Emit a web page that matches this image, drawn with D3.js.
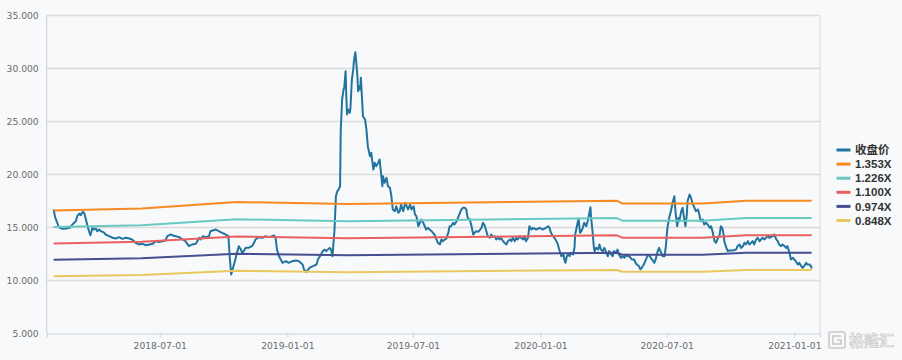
<!DOCTYPE html>
<html><head><meta charset="utf-8">
<script src="https://cdn.jsdelivr.net/npm/d3@7"></script>
<style>
html,body{margin:0;padding:0;background:#f8f9fb;}
svg{display:block;}
</style></head>
<body>
<svg id="chart" width="902" height="360"></svg>
<script>
// ---------- DATA ----------
const yTicks = [5, 10, 15, 20, 25, 30, 35];
const xTickLabels = ["2018-07-01", "2019-01-01", "2019-07-01", "2020-01-01", "2020-07-01", "2021-01-01"];
const seriesNames = ["收盘价", "1.353X", "1.226X", "1.100X", "0.974X", "0.848X"];

const closePrice = [
["2018-01-29",16.7],["2018-01-31",16.0],["2018-02-05",15.12],["2018-02-07",14.97],["2018-02-11",14.88],["2018-02-16",14.9],["2018-02-21",14.97],["2018-02-23",15.12],["2018-02-25",15.28],["2018-03-02",15.59],["2018-03-04",16.07],["2018-03-07",16.32],["2018-03-09",16.16],["2018-03-12",16.48],["2018-03-14",16.39],["2018-03-16",15.9],["2018-03-19",15.12],["2018-03-21",14.65],["2018-03-23",14.27],["2018-03-26",14.97],["2018-03-28",14.81],["2018-03-31",14.9],["2018-04-02",14.65],["2018-04-05",14.81],["2018-04-07",14.65],["2018-04-10",14.59],["2018-04-12",14.5],["2018-04-14",14.34],["2018-04-19",14.18],["2018-04-24",14.03],["2018-04-29",13.96],["2018-05-03",14.09],["2018-05-08",13.93],["2018-05-13",14.03],["2018-05-18",13.96],["2018-05-22",13.87],["2018-05-25",13.71],["2018-05-27",13.56],["2018-06-01",13.4],["2018-06-06",13.46],["2018-06-11",13.33],["2018-06-16",13.4],["2018-06-21",13.46],["2018-06-25",13.71],["2018-06-30",13.62],["2018-07-05",13.71],["2018-07-09",13.77],["2018-07-12",14.18],["2018-07-14",14.25],["2018-07-17",14.34],["2018-07-19",14.27],["2018-07-24",14.18],["2018-07-29",14.09],["2018-08-03",13.87],["2018-08-07",13.71],["2018-08-12",13.24],["2018-08-17",13.4],["2018-08-22",13.46],["2018-08-27",14.03],["2018-08-29",13.87],["2018-09-01",14.18],["2018-09-05",14.09],["2018-09-10",14.18],["2018-09-12",14.65],["2018-09-15",14.72],["2018-09-20",14.81],["2018-09-24",14.65],["2018-09-29",14.5],["2018-10-04",14.34],["2018-10-08",14.18],["2018-10-10",12.14],["2018-10-12",10.57],["2018-10-14",11.04],["2018-10-16",11.51],["2018-10-18",11.98],["2018-10-21",12.77],["2018-10-23",13.24],["2018-10-26",12.92],["2018-10-28",12.61],["2018-10-30",12.77],["2018-11-02",13.08],["2018-11-06",13.08],["2018-11-11",13.24],["2018-11-14",13.56],["2018-11-16",13.87],["2018-11-21",14.09],["2018-11-26",14.03],["2018-12-01",14.18],["2018-12-05",14.09],["2018-12-10",14.18],["2018-12-13",14.25],["2018-12-15",14.03],["2018-12-17",12.92],["2018-12-20",12.29],["2018-12-25",11.67],["2018-12-30",11.82],
["2019-01-03",11.67],["2019-01-08",11.82],["2019-01-13",11.89],["2019-01-18",11.82],["2019-01-20",11.67],["2019-01-23",11.51],["2019-01-25",11.04],["2019-01-28",10.8],["2019-02-02",11.2],["2019-02-07",11.35],["2019-02-12",11.51],["2019-02-14",11.98],["2019-02-17",12.29],["2019-02-21",12.77],["2019-02-24",12.92],["2019-02-26",12.77],["2019-03-03",13.08],["2019-03-05",12.92],["2019-03-07",12.29],["2019-03-10",14.81],["2019-03-12",17.95],["2019-03-14",18.42],["2019-03-16",18.58],["2019-03-18",18.9],["2019-03-19",24.25],["2019-03-21",27.08],["2019-03-23",28.02],["2019-03-24",28.18],["2019-03-26",29.75],["2019-03-27",27.39],["2019-03-28",25.66],["2019-03-30",26.13],["2019-04-01",25.82],["2019-04-02",26.29],["2019-04-04",28.96],["2019-04-06",29.91],["2019-04-07",30.69],["2019-04-09",31.54],["2019-04-10",30.85],["2019-04-12",29.27],["2019-04-13",27.86],["2019-04-14",28.33],["2019-04-16",28.02],["2019-04-17",29.12],["2019-04-19",26.76],["2019-04-20",25.5],["2019-04-23",25.19],["2019-04-25",24.25],["2019-04-27",22.67],["2019-04-30",21.73],["2019-05-02",22.04],["2019-05-05",20.47],["2019-05-07",21.1],["2019-05-09",20.78],["2019-05-12",21.1],["2019-05-14",21.42],["2019-05-16",20.16],["2019-05-18",18.9],["2019-05-19",19.84],["2019-05-21",19.21],["2019-05-24",19.69],["2019-05-26",18.9],["2019-05-29",18.74],["2019-05-31",17.95],["2019-06-02",16.7],["2019-06-05",16.54],["2019-06-07",17.01],["2019-06-10",16.39],["2019-06-12",16.54],["2019-06-14",17.17],["2019-06-17",16.54],["2019-06-20",17.33],["2019-06-22",17.01],["2019-06-24",16.7],["2019-06-27",17.17],["2019-06-29",16.7],["2019-07-02",17.01],["2019-07-04",16.23],["2019-07-06",16.07],["2019-07-09",15.12],["2019-07-11",15.44],["2019-07-13",15.75],["2019-07-16",15.44],["2019-07-18",15.12],["2019-07-20",14.81],["2019-07-23",14.97],["2019-07-25",14.81],["2019-07-28",14.65],["2019-07-30",14.5],["2019-08-01",14.34],["2019-08-04",13.87],["2019-08-06",13.56],["2019-08-09",13.4],["2019-08-11",13.87],["2019-08-13",13.71],["2019-08-16",13.87],["2019-08-18",13.93],["2019-08-21",14.5],["2019-08-23",15.12],["2019-08-25",15.12],["2019-08-28",15.44],["2019-08-30",15.28],["2019-09-02",15.59],["2019-09-04",15.9],["2019-09-06",16.23],["2019-09-09",16.7],["2019-09-11",16.86],["2019-09-14",16.86],["2019-09-16",16.7],["2019-09-18",15.9],["2019-09-21",15.75],["2019-09-23",15.28],["2019-09-26",14.34],["2019-09-28",14.5],["2019-09-30",14.65],["2019-10-03",14.59],["2019-10-05",14.72],["2019-10-08",14.97],["2019-10-10",15.44],["2019-10-12",15.28],["2019-10-15",14.65],["2019-10-17",14.18],["2019-10-20",14.03],["2019-10-22",14.34],["2019-10-24",14.09],["2019-10-27",14.18],["2019-10-29",13.87],["2019-11-01",14.03],["2019-11-03",13.87],["2019-11-05",14.03],["2019-11-08",13.71],["2019-11-10",13.56],["2019-11-13",13.4],["2019-11-15",13.71],["2019-11-18",13.87],["2019-11-20",13.71],["2019-11-22",14.03],["2019-11-25",13.71],["2019-11-27",14.03],["2019-11-29",13.87],["2019-12-02",14.18],["2019-12-04",14.03],["2019-12-07",13.87],["2019-12-09",14.18],["2019-12-11",13.71],["2019-12-14",14.03],["2019-12-16",15.12],["2019-12-19",14.81],["2019-12-21",14.97],["2019-12-26",14.81],["2019-12-31",14.97],
["2020-01-04",14.81],["2020-01-09",14.97],["2020-01-12",15.12],["2020-01-14",14.97],["2020-01-16",14.5],["2020-01-19",14.18],["2020-01-21",14.03],["2020-01-24",13.71],["2020-01-26",13.4],["2020-01-28",12.92],["2020-01-31",12.29],["2020-02-03",12.45],["2020-02-05",11.82],["2020-02-06",11.67],["2020-02-08",12.29],["2020-02-10",12.45],["2020-02-12",12.29],["2020-02-14",12.61],["2020-02-17",12.45],["2020-02-19",13.08],["2020-02-20",14.34],["2020-02-22",14.97],["2020-02-24",15.59],["2020-02-25",15.75],["2020-02-27",14.5],["2020-02-29",14.65],["2020-03-02",14.97],["2020-03-04",15.44],["2020-03-07",15.12],["2020-03-09",15.59],["2020-03-11",16.23],["2020-03-13",16.92],["2020-03-14",15.9],["2020-03-16",14.65],["2020-03-18",13.08],["2020-03-19",12.77],["2020-03-21",13.08],["2020-03-24",12.92],["2020-03-26",13.4],["2020-03-28",12.92],["2020-03-31",12.77],["2020-04-02",13.08],["2020-04-05",12.61],["2020-04-07",12.29],["2020-04-09",12.77],["2020-04-12",12.45],["2020-04-14",12.29],["2020-04-16",12.77],["2020-04-19",12.61],["2020-04-21",12.92],["2020-04-23",12.45],["2020-04-26",12.14],["2020-04-28",12.29],["2020-05-01",12.14],["2020-05-03",12.45],["2020-05-05",12.29],["2020-05-08",12.29],["2020-05-10",12.14],["2020-05-12",11.98],["2020-05-15",11.98],["2020-05-17",11.67],["2020-05-19",11.51],["2020-05-22",11.35],["2020-05-24",11.04],["2020-05-26",11.2],["2020-05-29",11.51],["2020-06-01",11.98],["2020-06-03",12.29],["2020-06-06",12.39],["2020-06-08",12.14],["2020-06-10",11.98],["2020-06-13",11.67],["2020-06-15",11.98],["2020-06-18",12.77],["2020-06-20",13.08],["2020-06-23",12.61],["2020-06-25",12.29],["2020-06-28",12.29],["2020-06-30",13.4],["2020-07-02",14.97],["2020-07-05",16.07],["2020-07-07",16.54],["2020-07-10",17.48],["2020-07-12",17.95],["2020-07-14",16.23],["2020-07-16",15.12],["2020-07-18",15.9],["2020-07-19",15.59],["2020-07-22",16.54],["2020-07-24",16.86],["2020-07-26",15.9],["2020-07-28",15.12],["2020-07-30",16.23],["2020-07-31",17.48],["2020-08-03",18.11],["2020-08-05",17.8],["2020-08-07",17.33],["2020-08-10",16.86],["2020-08-12",16.54],["2020-08-15",16.7],["2020-08-17",16.23],["2020-08-19",15.59],["2020-08-22",15.75],["2020-08-24",15.28],["2020-08-27",15.44],["2020-08-29",15.28],["2020-09-01",14.97],["2020-09-03",15.12],["2020-09-05",14.65],["2020-09-08",13.71],["2020-09-10",13.56],["2020-09-13",14.03],["2020-09-15",14.18],["2020-09-17",15.12],["2020-09-19",14.97],["2020-09-21",14.34],["2020-09-22",13.71],["2020-09-25",13.08],["2020-09-27",12.77],["2020-09-29",12.83],["2020-10-04",12.83],["2020-10-09",12.92],["2020-10-11",13.24],["2020-10-14",13.4],["2020-10-16",13.08],["2020-10-19",13.24],["2020-10-21",13.56],["2020-10-23",13.4],["2020-10-26",13.71],["2020-10-28",13.4],["2020-10-31",13.56],["2020-11-02",13.71],["2020-11-04",13.4],["2020-11-07",13.87],["2020-11-09",14.03],["2020-11-12",13.71],["2020-11-14",13.87],["2020-11-16",14.03],["2020-11-19",13.87],["2020-11-21",14.03],["2020-11-24",14.18],["2020-11-26",14.03],["2020-12-01",14.18],["2020-12-03",14.34],["2020-12-06",13.87],["2020-12-08",13.71],["2020-12-10",13.4],["2020-12-13",13.24],["2020-12-15",13.4],["2020-12-18",13.24],["2020-12-20",13.08],["2020-12-22",13.24],["2020-12-25",12.61],["2020-12-27",11.98],["2020-12-30",12.14],
["2021-01-01",11.98],["2021-01-03",11.82],["2021-01-06",11.51],["2021-01-08",11.67],["2021-01-11",11.35],["2021-01-13",11.2],["2021-01-15",11.35],["2021-01-18",11.67],["2021-01-20",11.51],["2021-01-23",11.51],["2021-01-25",11.35],["2021-01-26",11.13]
];

const bandDates = ["2018-01-29","2018-06-05","2018-10-20","2019-03-29","2020-04-20","2020-04-28","2020-08-22","2020-10-24","2021-01-26"];
const band1353 = [16.60, 16.79, 17.40, 17.21, 17.53, 17.26, 17.26, 17.53, 17.53];
const band1226 = [15.04, 15.21, 15.77, 15.60, 15.89, 15.64, 15.64, 15.89, 15.89];
const band1100 = [13.50, 13.65, 14.15, 13.99, 14.26, 14.04, 14.04, 14.26, 14.26];
const band0974 = [11.95, 12.09, 12.53, 12.39, 12.62, 12.43, 12.43, 12.62, 12.62];
const band0848 = [10.40, 10.52, 10.91, 10.79, 10.99, 10.82, 10.82, 10.99, 10.99];

// ---------- STYLE ----------
const colors = ["#22749f", "#f98a22", "#6ac8c3", "#e95f5f", "#454f92", "#e9c85e"];
const parse = d3.utcParse("%Y-%m-%d");
const svg = d3.select("#chart");
const W = 902, H = 360;
const plotL = 46.7, plotR = 820, plotT = 15.5, plotB = 333.5;

svg.append("rect").attr("width", W).attr("height", H).attr("fill", "#f8f9fb");

const x = d3.scaleUtc().domain([parse("2018-01-19"), parse("2021-02-07")]).range([plotL, plotR]);
const y = d3.scaleLinear().domain([5, 35]).range([plotB, plotT]);

// grid
svg.append("g").selectAll("line").data(yTicks.filter(v => v > 5)).join("line")
  .attr("x1", plotL).attr("x2", plotR)
  .attr("y1", d => y(d)).attr("y2", d => y(d))
  .attr("stroke", "#dcdcdc").attr("stroke-width", 1.4);
// frame verticals
svg.append("line").attr("x1", plotL).attr("x2", plotL).attr("y1", plotT).attr("y2", plotB)
  .attr("stroke", "#d3d6db").attr("stroke-width", 1.2);
svg.append("line").attr("x1", plotR).attr("x2", plotR).attr("y1", plotT).attr("y2", plotB)
  .attr("stroke", "#dcdcdc").attr("stroke-width", 1.2);

// y axis labels
const yAxis = d3.axisLeft(y).tickValues(yTicks).tickFormat(d3.format(".3f")).tickSize(0).tickPadding(8);
const gy = svg.append("g").attr("transform", `translate(${plotL},0)`).call(yAxis);
gy.select(".domain").remove();
gy.selectAll("text").attr("font-family", "'DejaVu Sans', Verdana, sans-serif").attr("font-size", 9.2).attr("fill", "#6b6b6b");

// x axis
const xAxis = d3.axisBottom(x).tickValues(xTickLabels.map(parse)).tickFormat(d3.utcFormat("%Y-%m-%d")).tickSize(4).tickPadding(5);
const gx = svg.append("g").attr("transform", `translate(0,${plotB})`).call(xAxis);
gx.select(".domain").attr("stroke", "#ccd4de").attr("stroke-width", 1.2);
gx.selectAll(".tick line").attr("stroke", "#ccd4de");
gx.selectAll("text").attr("font-family", "'DejaVu Sans', Verdana, sans-serif").attr("font-size", 9.2).attr("fill", "#6b6b6b");

// lines
const line = d3.line().x(d => x(d[0])).y(d => y(d[1]));
const priceData = closePrice.map(d => [parse(d[0]), d[1]]);
svg.append("path").datum(priceData).attr("d", line)
  .attr("fill", "none").attr("stroke", colors[0]).attr("stroke-width", 2).attr("stroke-linejoin", "round");

const bands = [band1353, band1226, band1100, band0974, band0848];
bands.forEach((vals, i) => {
  const data = bandDates.map((d, j) => [parse(d), vals[j]]);
  svg.append("path").datum(data).attr("d", line)
    .attr("fill", "none").attr("stroke", colors[i + 1]).attr("stroke-width", 2).attr("stroke-linejoin", "round");
});

// legend
const lg = svg.append("g");
seriesNames.forEach((name, i) => {
  const cy = 150 + i * 14.1;
  lg.append("line").attr("x1", 836.5).attr("x2", 850.5).attr("y1", cy).attr("y2", cy)
    .attr("stroke", colors[i]).attr("stroke-width", 3);
  lg.append("text").attr("x", 855).attr("y", cy).attr("dy", "0.36em")
    .attr("font-family", "'Liberation Sans', 'Noto Sans CJK SC', Arial, sans-serif")
    .attr("font-weight", "bold").attr("font-size", 11.5).attr("fill", "#333")
    .text(name);
});

// watermark
const wm = svg.append("g").attr("opacity", 0.9);
wm.append("rect").attr("x", 829).attr("y", 332).attr("width", 16).attr("height", 16).attr("rx", 2)
  .attr("fill", "none").attr("stroke", "#c4c4c4").attr("stroke-width", 1.6);
wm.append("path").attr("d", "M841,336 H833 V344 H841 V340 H837").attr("fill", "none")
  .attr("stroke", "#c4c4c4").attr("stroke-width", 1.6);
wm.append("text").attr("x", 849).attr("y", 346).attr("font-family", "'Noto Sans CJK SC', sans-serif")
  .attr("font-size", 15).attr("font-weight", "bold").attr("fill", "#f2f2f2").attr("stroke", "#c4c4c4").attr("stroke-width", 0.7)
  .text("格隆汇");
</script>
</body></html>
